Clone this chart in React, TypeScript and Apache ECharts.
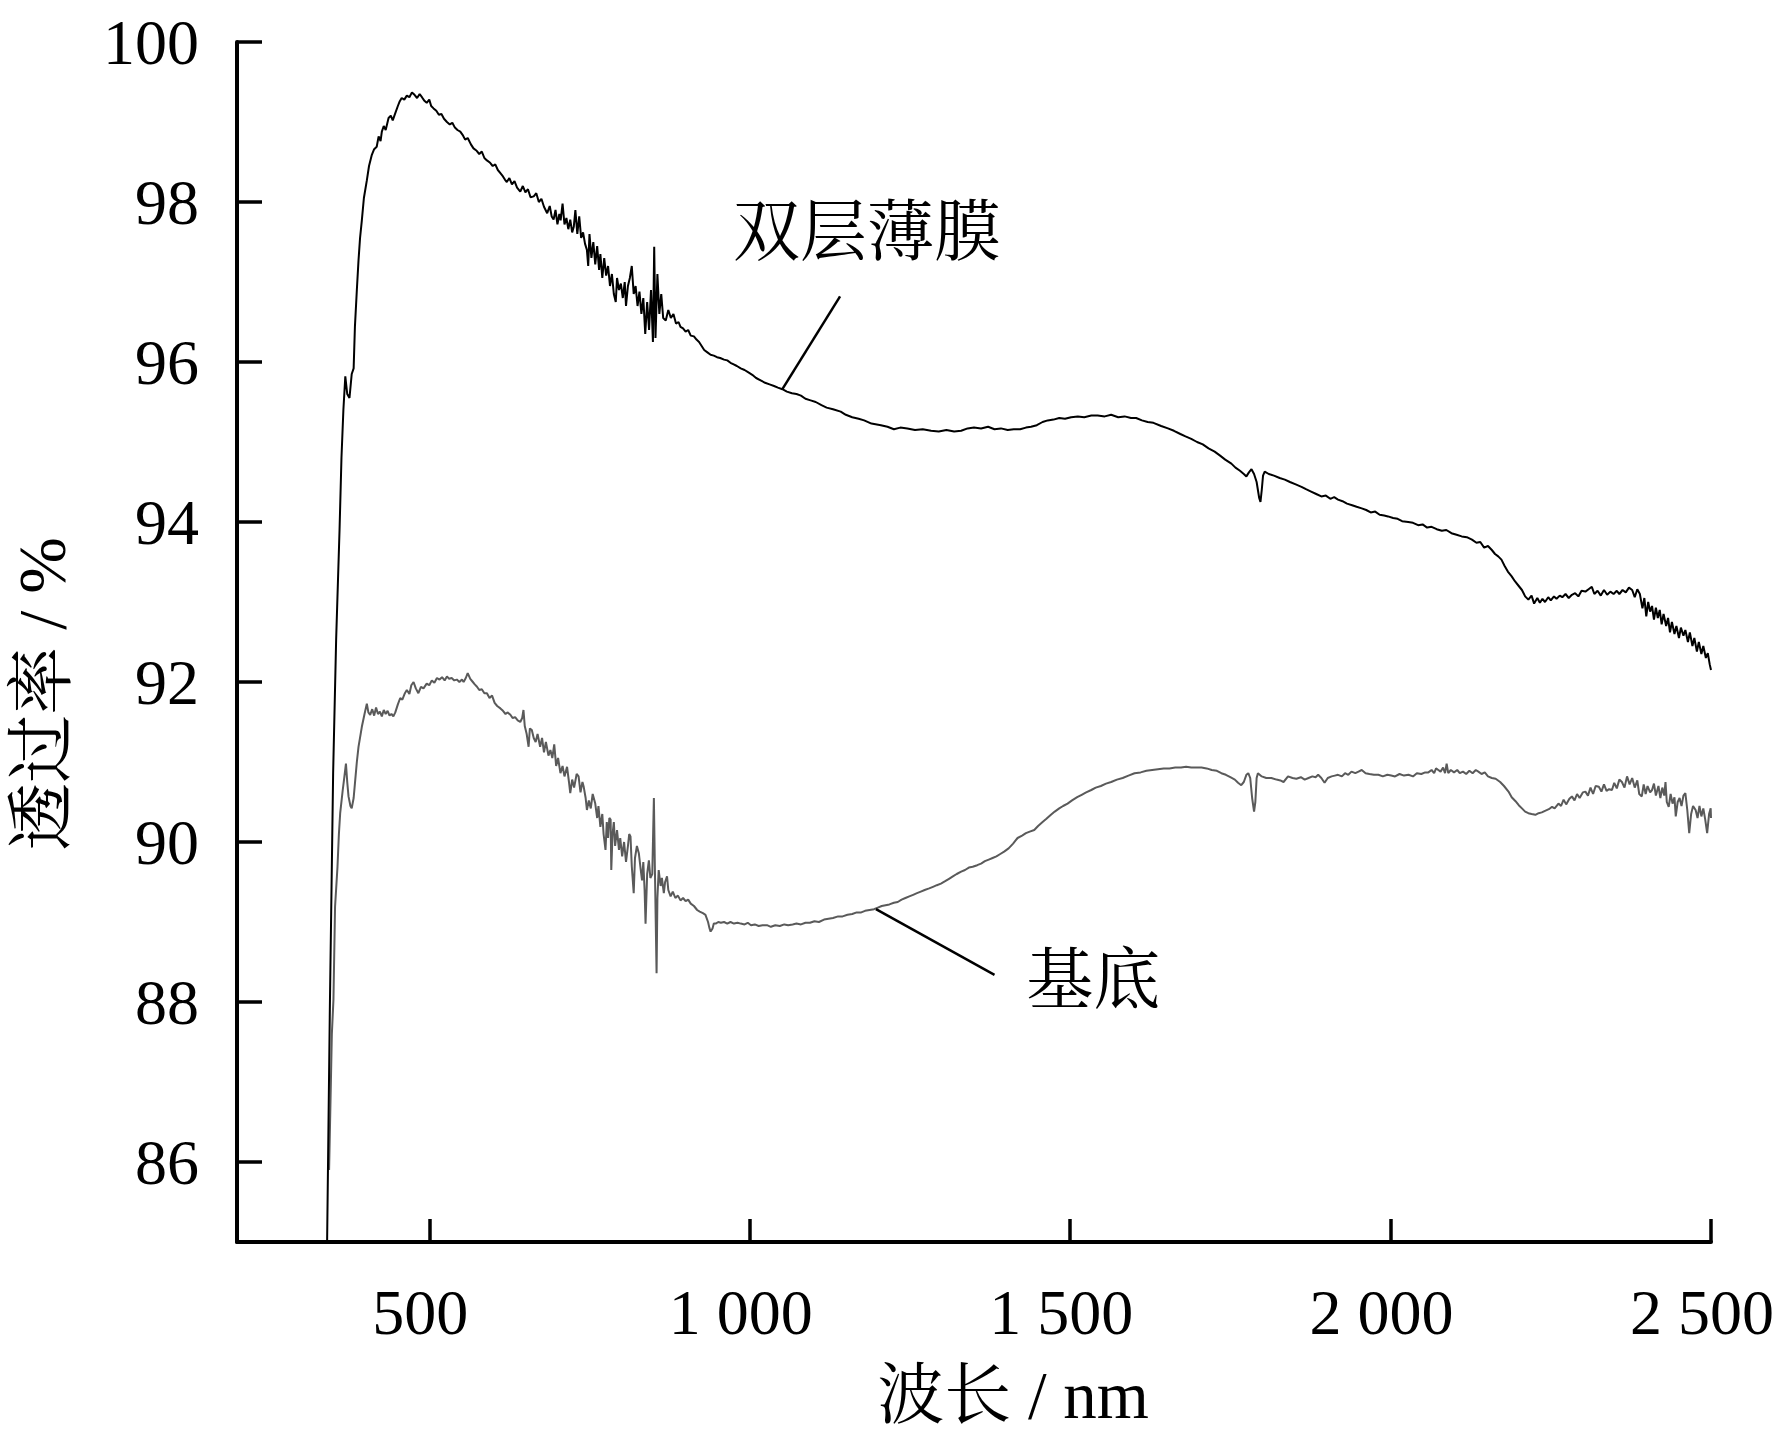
import React, { useEffect, useRef } from "react";
import * as echarts from "echarts";

// 双层薄膜 (bilayer film) transmittance: [wavelength nm, transmittance %]
const filmPoints: [number, number][] = [
  [340.6, 85.0], [345, 88.0], [350, 90.86], [354.7, 92.53], [360, 93.9], [363, 94.8], [366, 95.4], [369, 95.82],
  [372, 95.6], [375.5, 95.55], [379, 95.85], [382, 95.92], [384, 96.44], [387, 96.9], [389.6, 97.27], [392, 97.55],
  [394.8, 97.77], [398, 98.05], [402.6, 98.27], [406, 98.45], [410.4, 98.59], [414, 98.66], [418, 98.69], [421, 98.82],
  [424, 98.76], [426, 98.88], [429, 98.95], [432, 98.9], [436.5, 99.05], [440, 99.08], [443, 99.02], [447, 99.11],
  [451, 99.2], [454, 99.26], [457, 99.3], [461, 99.28], [465, 99.33], [469, 99.31], [473, 99.37], [477, 99.34],
  [481, 99.3], [485, 99.35], [488.6, 99.31], [492, 99.27], [496, 99.24], [500, 99.28], [503, 99.2], [506.7, 99.17],
  [511, 99.14], [515, 99.09], [519, 99.1], [523, 99.04], [527.6, 99.0], [532, 98.97], [536, 98.99], [540, 98.93],
  [544, 98.9], [548.4, 98.88], [552, 98.84], [556, 98.78], [560, 98.8], [565, 98.72], [569, 98.67], [574, 98.64],
  [578, 98.6], [582, 98.63], [586, 98.55], [590, 98.52], [595, 98.49], [599, 98.45], [603, 98.47], [607, 98.4],
  [611, 98.36], [615, 98.32], [618, 98.28], [621, 98.25], [625, 98.3], [629, 98.22], [633, 98.26], [637, 98.18],
  [642, 98.13], [646, 98.2], [650, 98.12], [654, 98.16], [658, 98.06], [663, 98.07], [667, 98.11], [671, 98.0],
  [675, 98.04], [679, 97.94], [684, 97.86], [688, 97.95], [691, 97.82], [694, 97.78], [697, 97.9], [700, 97.72],
  [703, 97.85], [705, 97.77], [708, 97.98], [711, 97.72], [714, 97.8], [717, 97.66], [720, 97.78], [723, 97.62],
  [725.5, 97.69], [728, 97.9], [731, 97.6], [734, 97.82], [737, 97.55], [740, 97.62], [743, 97.48], [746, 97.4],
  [748, 97.2], [750, 97.6], [753, 97.3], [756, 97.5], [759, 97.22], [762, 97.45], [765, 97.15], [767, 97.35],
  [770, 97.05], [773, 97.3], [776, 97.08], [779, 97.2], [782, 96.95], [785, 97.1], [788, 96.85], [791, 96.75],
  [793, 97.05], [796, 96.9], [799, 96.98], [802, 96.8], [805, 97.0], [807, 96.7], [810, 96.95], [813, 97.05],
  [816, 97.2], [819, 96.85], [822, 96.95], [825, 96.7], [828, 96.88], [831, 96.6], [834, 96.8], [837, 96.35],
  [840, 96.75], [843, 96.4], [846, 96.9], [849, 96.25], [851, 97.44], [853, 96.3], [856, 97.1], [859, 96.6],
  [862, 96.85], [865, 96.55], [869, 96.52], [873, 96.65], [877, 96.55], [881, 96.6], [885, 96.48], [889, 96.5],
  [892, 96.44], [896, 96.42], [900, 96.38], [904, 96.4], [908, 96.33], [913, 96.32], [917, 96.28], [921, 96.25],
  [925, 96.2], [929, 96.15], [934, 96.12], [939, 96.09], [944, 96.08], [949, 96.06], [954, 96.05], [960, 96.03],
  [965, 96.02], [970, 95.99], [975, 95.97], [980, 95.95], [986, 95.92], [992, 95.9], [998, 95.87], [1004, 95.84],
  [1010, 95.8], [1017, 95.77], [1024, 95.74], [1031, 95.72], [1038, 95.7], [1044, 95.68], [1051, 95.66], [1058, 95.63],
  [1066, 95.61], [1073, 95.6], [1080, 95.58], [1087, 95.54], [1095, 95.52], [1103, 95.5], [1112, 95.46], [1120, 95.43],
  [1130, 95.41], [1142, 95.38], [1150, 95.34], [1160, 95.31], [1170, 95.29], [1178.6, 95.27], [1190, 95.23], [1204.7, 95.21],
  [1215, 95.19], [1225, 95.16], [1235, 95.18], [1246, 95.17], [1258, 95.15], [1270, 95.16], [1283, 95.14], [1295, 95.13],
  [1307, 95.15], [1319, 95.13], [1330, 95.14], [1340, 95.17], [1350, 95.18], [1361, 95.17], [1372, 95.19], [1382, 95.16],
  [1392, 95.17], [1402.6, 95.15], [1412, 95.16], [1422, 95.16], [1431, 95.18], [1439, 95.19], [1448, 95.21], [1457, 95.25],
  [1465, 95.27], [1474, 95.28], [1483, 95.3], [1492, 95.29], [1501.6, 95.31], [1512, 95.32], [1522, 95.31], [1533, 95.33],
  [1543, 95.33], [1554, 95.32], [1564, 95.34], [1575, 95.31], [1585, 95.32], [1595, 95.3], [1603, 95.3], [1612, 95.27],
  [1621, 95.25], [1630, 95.24], [1642, 95.2], [1652.6, 95.17], [1662, 95.14], [1672, 95.1], [1680, 95.07], [1689, 95.04],
  [1698, 95.0], [1707, 94.97], [1716, 94.92], [1725.5, 94.88], [1734, 94.83], [1742, 94.78], [1751.6, 94.73], [1758, 94.68],
  [1765, 94.64], [1771, 94.6], [1775, 94.57], [1779, 94.62], [1783, 94.66], [1787, 94.6], [1791, 94.5], [1795, 94.3],
  [1797, 94.25], [1799, 94.4], [1801, 94.58], [1803.6, 94.63], [1810, 94.6], [1818, 94.58], [1827, 94.55], [1835, 94.53],
  [1843, 94.5], [1852, 94.47], [1861, 94.44], [1868, 94.41], [1876, 94.38], [1884, 94.35], [1892, 94.32], [1899, 94.33],
  [1906, 94.29], [1912, 94.31], [1918, 94.28], [1925, 94.26], [1932, 94.23], [1940, 94.21], [1947, 94.19], [1955, 94.17],
  [1962, 94.15], [1969, 94.12], [1976, 94.13], [1983, 94.09], [1990, 94.08], [1996, 94.07], [2004, 94.05], [2011, 94.04],
  [2018, 94.01], [2027.6, 94.0], [2035, 93.99], [2043, 93.96], [2050, 93.97], [2057, 93.93], [2064, 93.94], [2072, 93.91],
  [2080, 93.89], [2087, 93.9], [2095, 93.86], [2103, 93.84], [2111, 93.82], [2119, 93.81], [2127, 93.78], [2134, 93.74],
  [2140, 93.75], [2146, 93.68], [2152, 93.7], [2158, 93.65], [2163, 93.6], [2168, 93.57], [2173, 93.53], [2178, 93.45],
  [2183, 93.38], [2189, 93.32], [2194, 93.26], [2200, 93.2], [2205, 93.15], [2210, 93.07], [2215, 93.03], [2220, 93.08],
  [2224, 92.98], [2229, 93.05], [2233, 92.99], [2237, 93.04], [2241, 93.0], [2246, 93.06], [2250, 93.02], [2255, 93.07],
  [2259, 93.04], [2264, 93.08], [2268, 93.06], [2273, 93.1], [2278, 93.05], [2283, 93.09], [2288, 93.11], [2293, 93.07],
  [2298, 93.14], [2304, 93.13], [2309, 93.16], [2314, 93.19], [2318, 93.1], [2323, 93.14], [2328, 93.08], [2333, 93.15],
  [2338, 93.09], [2343, 93.13], [2348, 93.1], [2353, 93.14], [2357, 93.1], [2362, 93.15], [2367, 93.12], [2372, 93.18],
  [2377, 93.15], [2381, 93.06], [2385, 93.16], [2389, 93.1], [2393, 92.92], [2396, 93.05], [2399, 92.82], [2402, 93.0],
  [2405, 92.88], [2408, 92.95], [2411, 92.78], [2414, 92.93], [2417, 92.8], [2420, 92.9], [2423, 92.72], [2426, 92.85],
  [2430, 92.7], [2433, 92.8], [2436, 92.62], [2439, 92.75], [2443, 92.6], [2446, 92.7], [2450, 92.55], [2453, 92.68],
  [2457, 92.58], [2460, 92.65], [2464, 92.5], [2467, 92.62], [2471, 92.45], [2474, 92.55], [2478, 92.38], [2481, 92.5],
  [2485, 92.35], [2488, 92.45], [2492, 92.3], [2495, 92.36], [2498, 92.22], [2500, 92.15],
];

// 基底 (substrate) transmittance: [wavelength nm, transmittance %]
const substratePoints: [number, number][] = [
  [343.7, 85.9], [346, 86.8], [348, 87.6], [350.5, 88.03], [353, 89.19], [356.8, 89.69], [359, 90.1], [361, 90.36],
  [365, 90.65], [367, 90.78], [370, 90.98], [372, 90.75], [374, 90.57], [377, 90.45], [379, 90.42], [382, 90.55],
  [384, 90.73], [387, 91.0], [389.6, 91.19], [394.8, 91.44], [399, 91.6], [402.6, 91.73], [405, 91.62], [407.8, 91.59],
  [411, 91.66], [414, 91.58], [417, 91.68], [420, 91.6], [423, 91.63], [426, 91.57], [429, 91.65], [432, 91.6],
  [435, 91.64], [438, 91.58], [441, 91.6], [444, 91.57], [447, 91.62], [451, 91.72], [454.7, 91.8], [458, 91.78],
  [462, 91.86], [465, 91.9], [469, 91.85], [472, 91.96], [475.5, 92.0], [479, 91.92], [483, 91.86], [487, 91.94],
  [491, 91.92], [496, 91.98], [500, 91.96], [504, 92.02], [508, 91.99], [512, 92.05], [516, 92.03], [520, 92.06],
  [524, 92.02], [527.6, 92.07], [531, 92.04], [535, 92.05], [539, 92.02], [543, 92.03], [547, 92.0], [551, 92.03],
  [553.6, 92.0], [557, 92.05], [560, 92.11], [564, 92.04], [568, 92.0], [571, 91.97], [574.5, 91.94], [578, 91.9],
  [582, 91.91], [586, 91.86], [590, 91.86], [594, 91.8], [598, 91.83], [602, 91.74], [606, 91.7], [611, 91.67],
  [615, 91.64], [619, 91.6], [622, 91.62], [626.6, 91.59], [630, 91.55], [634, 91.56], [638, 91.52], [642, 91.5],
  [645, 91.55], [647, 91.65], [649, 91.45], [652, 91.35], [655, 91.19], [657, 91.42], [660, 91.4], [663, 91.3],
  [666, 91.25], [669, 91.35], [673, 91.19], [676, 91.3], [679, 91.12], [682, 91.25], [686, 91.08], [689, 91.15],
  [692, 91.05], [695, 91.22], [698, 90.95], [701, 91.05], [704.7, 90.86], [708, 90.95], [711, 90.82], [715, 90.94],
  [718, 90.75], [720, 90.61], [723, 90.78], [726, 90.68], [730, 90.85], [733, 90.82], [736, 90.62], [739, 90.75],
  [741, 90.69], [744, 90.55], [746, 90.4], [749, 90.52], [752, 90.42], [755, 90.6], [759, 90.48], [762, 90.3],
  [764, 90.45], [767, 90.19], [770, 90.35], [772, 90.1], [775, 89.9], [777, 90.25], [779, 90.05], [781, 90.3],
  [783, 90.28], [784, 89.65], [786, 90.1], [788, 90.25], [790, 89.95], [793, 90.15], [796, 89.9], [798, 90.05],
  [801, 89.82], [804, 90.0], [807, 89.75], [810, 89.95], [812, 90.1], [814, 90.07], [816, 89.7], [819, 89.36],
  [821, 89.8], [824, 89.95], [827, 89.86], [830, 89.65], [832, 89.52], [834, 89.75], [836, 89.4], [837.5, 88.98],
  [840, 89.6], [842.7, 89.77], [845, 89.55], [848, 89.6], [850.5, 90.55], [852, 89.7], [854.7, 88.36], [856, 89.3],
  [858, 89.65], [861, 89.45], [863, 89.55], [866, 89.36], [868, 89.5], [871, 89.57], [873, 89.4], [876.6, 89.32],
  [880, 89.38], [884, 89.3], [888, 89.33], [892, 89.27], [896, 89.3], [900, 89.26], [904, 89.28], [908, 89.23],
  [913, 89.2], [918, 89.15], [922, 89.13], [927, 89.11], [931, 89.09], [935, 89.0], [937, 88.93], [939, 88.88],
  [942, 88.92], [944, 88.98], [947, 88.98], [951, 89.0], [955, 88.99], [960, 89.0], [965, 88.98], [970, 89.0],
  [975.5, 88.98], [981, 88.99], [986, 88.98], [992, 88.97], [997, 88.99], [1002, 88.96], [1008, 88.97], [1014, 88.95],
  [1020, 88.96], [1027, 88.96], [1033, 88.94], [1040, 88.96], [1047, 88.95], [1054, 88.97], [1060, 88.96], [1067, 88.97],
  [1073, 88.98], [1080, 88.97], [1087, 88.99], [1094, 88.99], [1101, 89.01], [1108, 89.0], [1116, 89.03], [1123, 89.04],
  [1130, 89.05], [1138, 89.07], [1145, 89.07], [1152.6, 89.09], [1160, 89.1], [1167, 89.12], [1174, 89.12], [1180, 89.14],
  [1187, 89.15], [1194, 89.16], [1200, 89.18], [1206, 89.2], [1212, 89.21], [1218, 89.22], [1225, 89.24], [1231, 89.25],
  [1237, 89.28], [1243, 89.3], [1249, 89.32], [1255, 89.34], [1261, 89.36], [1267, 89.38], [1273, 89.4], [1280, 89.42],
  [1286, 89.44], [1292, 89.46], [1298.4, 89.48], [1305, 89.51], [1311, 89.54], [1317, 89.57], [1323, 89.6], [1330, 89.63],
  [1336, 89.65], [1342, 89.68], [1348, 89.69], [1355, 89.71], [1361, 89.73], [1367, 89.76], [1373, 89.78], [1379, 89.8],
  [1385, 89.82], [1391, 89.85], [1397, 89.88], [1404, 89.92], [1411, 89.98], [1418, 90.05], [1425, 90.08], [1431, 90.11],
  [1437, 90.13], [1444, 90.15], [1450, 90.2], [1457, 90.25], [1463, 90.29], [1470, 90.34], [1476, 90.38], [1483, 90.42],
  [1489, 90.45], [1496, 90.48], [1503, 90.52], [1511, 90.56], [1518, 90.59], [1525, 90.62], [1533, 90.65], [1540, 90.68],
  [1548, 90.7], [1556, 90.73], [1564, 90.75], [1573, 90.78], [1582, 90.8], [1591, 90.83], [1600.5, 90.86], [1610, 90.87],
  [1619, 90.89], [1628, 90.9], [1637, 90.91], [1646, 90.92], [1655, 90.92], [1664, 90.93], [1673, 90.93], [1681, 90.94],
  [1689, 90.93], [1697, 90.93], [1705, 90.93], [1713, 90.92], [1721, 90.9], [1729, 90.89], [1736, 90.86], [1743, 90.84],
  [1750, 90.81], [1757, 90.78], [1762, 90.74], [1767, 90.71], [1771, 90.75], [1775, 90.84], [1778, 90.86], [1781, 90.8],
  [1784, 90.55], [1787, 90.38], [1789, 90.5], [1791, 90.8], [1793, 90.86], [1799, 90.82], [1806, 90.8], [1814, 90.8],
  [1822, 90.78], [1828, 90.77], [1833, 90.75], [1840, 90.82], [1847, 90.8], [1853, 90.79], [1860, 90.81], [1866, 90.78],
  [1872, 90.8], [1878, 90.82], [1883, 90.81], [1887, 90.84], [1892, 90.8], [1897, 90.74], [1902, 90.8], [1908, 90.82],
  [1913, 90.83], [1918, 90.84], [1924, 90.82], [1929, 90.86], [1934, 90.84], [1939, 90.88], [1945, 90.86], [1950, 90.88],
  [1955, 90.9], [1961, 90.86], [1967, 90.85], [1974, 90.84], [1981, 90.84], [1988, 90.82], [1995, 90.84], [2001, 90.83],
  [2007, 90.82], [2014, 90.85], [2021, 90.83], [2028, 90.84], [2035, 90.82], [2041, 90.86], [2048, 90.85], [2054, 90.87],
  [2059, 90.87], [2064, 90.9], [2068, 90.86], [2071, 90.92], [2074.5, 90.9], [2078, 90.88], [2082, 90.93], [2085, 90.86],
  [2087.5, 90.98], [2090, 90.86], [2094, 90.9], [2099, 90.87], [2104, 90.9], [2108, 90.86], [2113, 90.88], [2118, 90.85],
  [2123, 90.89], [2128, 90.86], [2133, 90.9], [2137, 90.88], [2142, 90.85], [2147, 90.87], [2152, 90.82], [2158, 90.8],
  [2164, 90.79], [2171, 90.75], [2177, 90.7], [2184, 90.63], [2189, 90.56], [2195, 90.51], [2200, 90.46], [2205, 90.42],
  [2210, 90.38], [2215, 90.36], [2220, 90.35], [2226, 90.34], [2231, 90.36], [2236, 90.37], [2241, 90.39], [2247, 90.41],
  [2252, 90.44], [2256, 90.42], [2262, 90.48], [2266, 90.45], [2270, 90.53], [2274, 90.47], [2279, 90.54], [2283, 90.57],
  [2287, 90.52], [2291, 90.6], [2295, 90.55], [2300, 90.62], [2304, 90.63], [2308, 90.58], [2312, 90.68], [2316, 90.6],
  [2320, 90.7], [2325, 90.69], [2329, 90.63], [2333, 90.72], [2337, 90.64], [2341, 90.66], [2345.5, 90.65], [2349, 90.74],
  [2353, 90.67], [2357, 90.78], [2361, 90.75], [2365, 90.68], [2369, 90.82], [2373, 90.72], [2377, 90.8], [2381, 90.68],
  [2385, 90.77], [2388, 90.6], [2392, 90.57], [2395, 90.72], [2398, 90.6], [2401, 90.7], [2405, 90.62], [2408, 90.65],
  [2411, 90.73], [2414, 90.58], [2418, 90.7], [2421, 90.55], [2424, 90.68], [2427, 90.58], [2429, 90.75], [2431, 90.5],
  [2434, 90.44], [2437, 90.6], [2440, 90.48], [2443, 90.56], [2445, 90.32], [2448, 90.5], [2451, 90.55], [2454, 90.45],
  [2457, 90.58], [2460, 90.61], [2463, 90.4], [2466, 90.11], [2469, 90.35], [2472, 90.45], [2476, 90.4], [2479, 90.3],
  [2482, 90.45], [2485, 90.32], [2488, 90.42], [2491, 90.28], [2494, 90.11], [2497, 90.35], [2499.5, 90.42], [2500, 90.3],
];

const xTicks = [500, 1000, 1500, 2000, 2500];
const yTicks = [86, 88, 90, 92, 94, 96, 98, 100];

const seriesNames = ["双层薄膜", "基底"];
const xAxisTitle = "波长 / nm";
const yAxisTitle = "透过率 / %";

// annotation anchors in data coordinates
const filmLeader: [number, number][] = [[1141, 96.82], [1051, 95.66]];
const filmLabelAt: [number, number] = [1183, 97.63];
const subLeader: [number, number][] = [[1197, 89.16], [1382, 88.34]];
const subLabelAt: [number, number] = [1536, 88.27];

const FONT = '"Liberation Serif", "Times New Roman", "Noto Serif CJK SC", "Noto Sans CJK SC", serif';

function fmtX(v: number): string {
  if (v >= 1000) {
    const th = Math.floor(v / 1000);
    const rest = String(v % 1000).padStart(3, "0");
    return th + " " + rest;
  }
  return String(v);
}

export default function App() {
  const ref = useRef<HTMLDivElement>(null);

  useEffect(() => {
    if (!ref.current) return;
    const chart = echarts.init(ref.current, undefined, { renderer: "svg" });
    const option: any = {
      animation: false,
      backgroundColor: "#ffffff",
      grid: { left: 237, right: 68, top: 42, bottom: 199 },
      xAxis: {
        type: "value",
        min: 200,
        max: 2500,
        axisLine: { show: true, onZero: false, lineStyle: { color: "#000", width: 4 } },
        axisTick: {
          show: true,
          inside: true,
          length: 23,
          customValues: xTicks,
          lineStyle: { color: "#000", width: 3.5 },
        },
        axisLabel: {
          customValues: xTicks,
          margin: 38,
          fontSize: 64,
          fontFamily: FONT,
          color: "#000",
          padding: [0, 18, 0, 0],
          formatter: (v: number) => fmtX(v),
        },
        splitLine: { show: false },
      },
      yAxis: {
        type: "value",
        min: 85,
        max: 100,
        axisLine: { show: true, onZero: false, lineStyle: { color: "#000", width: 4 } },
        axisTick: {
          show: true,
          inside: true,
          length: 25,
          customValues: yTicks,
          lineStyle: { color: "#000", width: 3.5 },
        },
        axisLabel: {
          customValues: yTicks,
          margin: 38,
          fontSize: 64,
          fontFamily: FONT,
          color: "#000",
        },
        splitLine: { show: false },
      },
      series: [
        {
          name: seriesNames[0],
          type: "line",
          data: filmPoints,
          showSymbol: false,
          symbol: "none",
          lineStyle: { color: "#000", width: 2 },
          z: 3,
          markLine: {
            silent: true,
            symbol: ["none", "none"],
            label: { show: false },
            lineStyle: { color: "#000", width: 2.5, type: "solid" },
            data: [[{ coord: filmLeader[0] }, { coord: filmLeader[1] }]],
          },
          markPoint: {
            silent: true,
            symbol: "circle",
            symbolSize: 1,
            itemStyle: { color: "rgba(0,0,0,0)" },
            label: {
              show: true,
              position: "inside",
              fontSize: 67,
              fontFamily: FONT,
              color: "#000",
              formatter: seriesNames[0],
            },
            data: [{ coord: filmLabelAt }],
          },
        },
        {
          name: seriesNames[1],
          type: "line",
          data: substratePoints,
          showSymbol: false,
          symbol: "none",
          lineStyle: { color: "#5a5a5a", width: 2 },
          z: 2,
          markLine: {
            silent: true,
            symbol: ["none", "none"],
            label: { show: false },
            lineStyle: { color: "#000", width: 2.5, type: "solid" },
            data: [[{ coord: subLeader[0] }, { coord: subLeader[1] }]],
          },
          markPoint: {
            silent: true,
            symbol: "circle",
            symbolSize: 1,
            itemStyle: { color: "rgba(0,0,0,0)" },
            label: {
              show: true,
              position: "inside",
              fontSize: 67,
              fontFamily: FONT,
              color: "#000",
              formatter: seriesNames[1],
            },
            data: [{ coord: subLabelAt }],
          },
        },
      ],
      graphic: [
        {
          type: "text",
          x: 1013,
          y: 1395,
          style: {
            text: xAxisTitle,
            fontSize: 67,
            fontFamily: FONT,
            fill: "#000",
            align: "center",
            verticalAlign: "middle",
          },
        },
        {
          type: "text",
          x: 42,
          y: 694,
          rotation: Math.PI / 2,
          style: {
            text: yAxisTitle,
            fontSize: 68,
            fontFamily: FONT,
            fill: "#000",
            align: "center",
            verticalAlign: "middle",
          },
        },
      ],
    };
    chart.setOption(option);
    return () => {
      chart.dispose();
    };
  }, []);

  return (
    <div
      ref={ref}
      style={{ position: "absolute", left: 0, top: 0, width: 1779, height: 1441, background: "#fff" }}
    />
  );
}
